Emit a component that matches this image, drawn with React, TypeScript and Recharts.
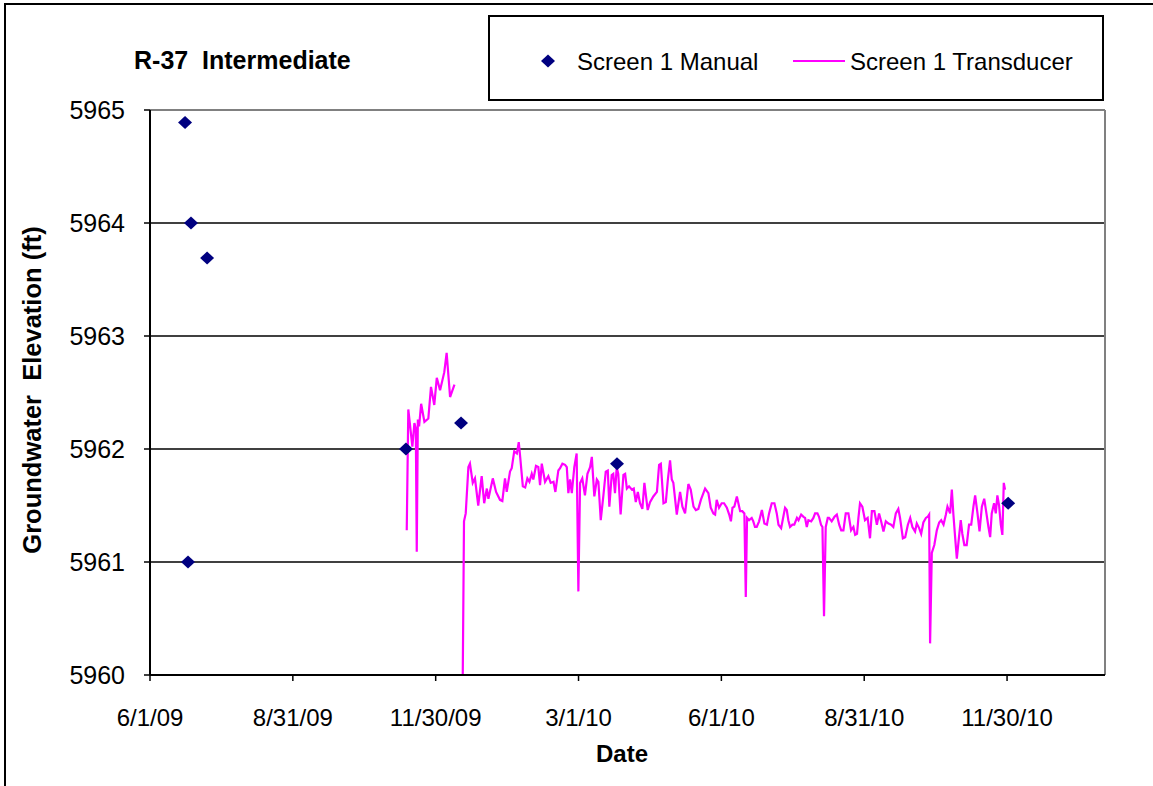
import React from "react";
import {
  ComposedChart,
  Line,
  Scatter,
  XAxis,
  YAxis,
  CartesianGrid,
  ReferenceLine,
} from "recharts";

// x values are days since 6/1/09 (axis ticks every 91.3 days)
const dateTicks = [0, 91.3, 182.6, 273.9, 365.2, 456.5, 547.8];
const dateLabels = ["6/1/09", "8/31/09", "11/30/09", "3/1/10", "6/1/10", "8/31/10", "11/30/10"];
const dayMax = 610.4;
const elevationTicks = [5960, 5961, 5962, 5963, 5964, 5965];

const manualDays = [22.4, 26.2, 24.3, 36.5, 163.6, 198.8, 298.5, 548.5];
const manualElevations = [5964.89, 5964.0, 5961.0, 5963.69, 5962.0, 5962.23, 5961.87, 5961.52];

// transducer record before the data gap
const transducerEarly: [number, number][] = [
  [164.1, 5961.28], [165.1, 5962.35], [167.7, 5962.02], [169.0, 5962.23], [169.9, 5962.18],
  [170.5, 5961.09], [171.2, 5962.26], [172.0, 5962.2], [173.3, 5962.4], [175.4, 5962.24],
  [177.9, 5962.27], [179.6, 5962.55], [181.7, 5962.39], [183.3, 5962.63], [185.4, 5962.52],
  [188.1, 5962.68], [189.6, 5962.85], [191.8, 5962.46], [194.6, 5962.57],
];

// transducer record after the gap
const transducerLate: [number, number][] = [
  [199.9, 5960.0], [200.7, 5961.36], [201.8, 5961.43], [203.5, 5961.84], [204.5, 5961.87],
  [206.3, 5961.7], [207.7, 5961.74], [209.8, 5961.5], [212.0, 5961.76], [213.6, 5961.52],
  [215.3, 5961.65], [216.3, 5961.56], [219.1, 5961.74], [221.2, 5961.62], [223.7, 5961.55],
  [225.2, 5961.54], [226.9, 5961.74], [228.0, 5961.62], [230.1, 5961.8], [231.2, 5961.83],
  [232.8, 5961.98], [234.5, 5961.96], [235.7, 5962.06], [236.6, 5961.93], [238.3, 5961.67],
  [239.8, 5961.66], [241.2, 5961.74], [242.5, 5961.71], [244.0, 5961.78], [245.0, 5961.73],
  [246.7, 5961.85], [248.2, 5961.84], [249.3, 5961.68], [250.4, 5961.87], [252.5, 5961.71],
  [254.6, 5961.76], [256.1, 5961.7], [257.9, 5961.71], [259.1, 5961.62], [261.0, 5961.81],
  [262.1, 5961.83], [263.6, 5961.87], [265.3, 5961.86], [266.4, 5961.84], [267.4, 5961.61],
  [268.5, 5961.73], [269.6, 5961.61], [271.2, 5961.84], [272.7, 5961.96], [273.8, 5960.74],
  [274.9, 5961.7], [276.3, 5961.74], [278.0, 5961.59], [279.6, 5961.78], [281.3, 5961.84],
  [282.4, 5961.93], [284.0, 5961.58], [285.6, 5961.73], [286.6, 5961.71], [288.1, 5961.37],
  [289.8, 5961.59], [291.3, 5961.8], [292.6, 5961.81], [293.6, 5961.49], [295.1, 5961.77],
  [296.1, 5961.78], [297.2, 5961.61], [298.3, 5961.84], [299.3, 5961.78], [300.8, 5961.42],
  [302.6, 5961.77], [303.7, 5961.78], [304.8, 5961.65], [306.2, 5961.67], [308.0, 5961.64],
  [309.2, 5961.65], [310.5, 5961.53], [311.8, 5961.62], [313.2, 5961.52], [314.7, 5961.47],
  [316.0, 5961.7], [318.1, 5961.46], [319.6, 5961.53], [321.7, 5961.58], [324.0, 5961.62],
  [325.4, 5961.86], [326.5, 5961.87], [328.2, 5961.52], [329.7, 5961.53], [331.0, 5961.73],
  [332.4, 5961.9], [333.5, 5961.73], [334.5, 5961.7], [336.7, 5961.42], [338.8, 5961.62],
  [340.3, 5961.49], [342.0, 5961.43], [344.1, 5961.69], [345.6, 5961.64], [347.4, 5961.49],
  [348.9, 5961.46], [350.5, 5961.47], [352.1, 5961.55], [353.7, 5961.61], [354.8, 5961.65],
  [356.9, 5961.61], [358.4, 5961.48], [360.1, 5961.43], [361.2, 5961.42], [362.2, 5961.55],
  [363.7, 5961.48], [365.4, 5961.52], [366.9, 5961.52], [368.7, 5961.48], [370.2, 5961.42],
  [371.3, 5961.36], [372.3, 5961.48], [373.5, 5961.49], [375.1, 5961.58], [377.2, 5961.45],
  [378.6, 5961.45], [379.9, 5961.43], [380.8, 5960.69], [381.6, 5961.39], [382.9, 5961.37],
  [384.6, 5961.39], [385.6, 5961.36], [386.7, 5961.31], [387.8, 5961.31], [389.3, 5961.36],
  [391.1, 5961.46], [392.7, 5961.34], [394.3, 5961.33], [395.7, 5961.43], [397.4, 5961.52],
  [399.1, 5961.52], [400.6, 5961.43], [401.7, 5961.33], [403.4, 5961.3], [404.8, 5961.4],
  [405.9, 5961.48], [407.0, 5961.46], [408.0, 5961.37], [409.1, 5961.31], [410.6, 5961.33],
  [411.8, 5961.33], [413.5, 5961.39], [414.5, 5961.37], [416.2, 5961.42], [417.7, 5961.4],
  [418.7, 5961.39], [419.8, 5961.31], [420.8, 5961.37], [422.6, 5961.36], [424.0, 5961.39],
  [425.1, 5961.43], [426.6, 5961.43], [427.6, 5961.4], [428.9, 5961.33], [429.8, 5961.31],
  [430.8, 5960.52], [431.9, 5961.31], [433.2, 5961.39], [434.0, 5961.39], [435.7, 5961.36],
  [437.5, 5961.4], [439.0, 5961.42], [440.5, 5961.33], [441.8, 5961.28], [443.2, 5961.28],
  [444.7, 5961.43], [446.4, 5961.43], [448.1, 5961.28], [449.6, 5961.31], [450.7, 5961.24],
  [451.9, 5961.25], [452.8, 5961.39], [453.8, 5961.52], [455.3, 5961.49], [457.0, 5961.37],
  [458.7, 5961.39], [460.2, 5961.21], [461.4, 5961.45], [463.0, 5961.45], [464.6, 5961.33],
  [466.0, 5961.43], [467.3, 5961.36], [468.8, 5961.27], [470.3, 5961.36], [472.0, 5961.34],
  [473.7, 5961.33], [475.1, 5961.31], [476.7, 5961.43], [478.3, 5961.47], [479.4, 5961.39],
  [481.2, 5961.21], [482.7, 5961.22], [484.4, 5961.33], [485.9, 5961.39], [487.3, 5961.31],
  [489.0, 5961.27], [490.1, 5961.34], [491.6, 5961.3], [492.9, 5961.25], [494.3, 5961.35],
  [495.9, 5961.39], [497.1, 5961.4], [498.0, 5961.42], [498.6, 5960.28], [499.7, 5961.08],
  [501.3, 5961.15], [502.9, 5961.28], [504.4, 5961.35], [505.7, 5961.37], [507.2, 5961.33],
  [508.7, 5961.42], [509.7, 5961.49], [511.4, 5961.43], [512.5, 5961.64], [513.5, 5961.42],
  [514.6, 5961.22], [515.7, 5961.03], [516.7, 5961.17], [518.2, 5961.37], [519.2, 5961.25],
  [520.5, 5961.15], [522.0, 5961.15], [523.5, 5961.33], [524.9, 5961.33], [526.3, 5961.49],
  [527.4, 5961.59], [528.9, 5961.43], [530.2, 5961.27], [531.7, 5961.49], [533.2, 5961.56],
  [534.4, 5961.45], [535.9, 5961.31], [537.0, 5961.22], [538.0, 5961.43], [539.5, 5961.52],
  [540.6, 5961.43], [541.6, 5961.59], [542.7, 5961.5], [543.8, 5961.33], [544.8, 5961.24],
  [545.7, 5961.7], [546.5, 5961.64],
];

const manualData = manualDays.map((day, i) => ({ day, elevation: manualElevations[i] }));
const transducerData = [
  ...transducerEarly.map(([day, elevation]) => ({ day, elevation })),
  { day: 197, elevation: null },
  ...transducerLate.map(([day, elevation]) => ({ day, elevation })),
];

const FONT = "'Liberation Sans', Arial, sans-serif";
const NAVY = "#000080";
const MAGENTA = "#FF00FF";

const Diamond = (props: any) => {
  const { cx, cy } = props;
  if (cx == null || cy == null) return null;
  return (
    <path
      d={`M${cx},${cy - 6.5}L${cx + 7},${cy}L${cx},${cy + 6.5}L${cx - 7},${cy}Z`}
      fill={NAVY}
    />
  );
};

export default function App() {
  return (
    <div
      style={{
        position: "fixed",
        left: 0,
        top: 0,
        width: 1153,
        height: 786,
        background: "#fff",
        overflow: "hidden",
        fontFamily: FONT,
        color: "#000",
      }}
    >
      {/* outer chart frame */}
      <div
        style={{
          position: "absolute",
          left: 4,
          top: 3,
          width: 1300,
          height: 1000,
          border: "2px solid #000",
        }}
      />

      <div style={{ position: "absolute", left: 0, top: 0 }}>
        <ComposedChart
          width={1153}
          height={786}
          margin={{ top: 110, right: 48, bottom: 71, left: 0 }}
        >
          <CartesianGrid vertical={false} stroke="#000" strokeWidth={1.5} />
          <XAxis
            type="number"
            dataKey="day"
            domain={[0, dayMax]}
            ticks={dateTicks}
            allowDataOverflow
            height={40}
            tickFormatter={(v: number) => dateLabels[dateTicks.indexOf(v)] ?? ""}
            axisLine={{ stroke: "#000", strokeWidth: 2 }}
            tickLine={{ stroke: "#000", strokeWidth: 1.5 }}
            tickSize={6}
            tickMargin={28}
            tick={{ fill: "#000", fontSize: 24, fontFamily: FONT }}
            interval={0}
          />
          <YAxis
            type="number"
            domain={[5960, 5965]}
            ticks={elevationTicks}
            allowDataOverflow
            width={150}
            axisLine={{ stroke: "#000", strokeWidth: 2 }}
            tickLine={{ stroke: "#000", strokeWidth: 1.5 }}
            tickSize={6}
            tickMargin={19}
            tick={{ fill: "#000", fontSize: 25, fontFamily: FONT }}
            interval={0}
          />
          <ReferenceLine y={5965} stroke="#808080" strokeWidth={2} />
          <ReferenceLine x={dayMax} stroke="#808080" strokeWidth={2} />
          <Line
            data={transducerData}
            dataKey="elevation"
            type="linear"
            stroke={MAGENTA}
            strokeWidth={2.2}
            dot={false}
            activeDot={false}
            connectNulls={false}
            isAnimationActive={false}
          />
          <Scatter
            data={manualData}
            dataKey="elevation"
            shape={<Diamond />}
            isAnimationActive={false}
          />
        </ComposedChart>
      </div>

      {/* title */}
      <div
        style={{
          position: "absolute",
          left: 134,
          top: 60,
          transform: "translateY(-50%)",
          fontSize: 25,
          fontWeight: "bold",
          lineHeight: 1,
          whiteSpace: "pre",
        }}
      >
        R-37  Intermediate
      </div>

      {/* legend */}
      <div
        style={{
          position: "absolute",
          left: 488,
          top: 15,
          width: 616,
          height: 86,
          boxSizing: "border-box",
          border: "2px solid #000",
          background: "#fff",
        }}
      >
        <svg width={20} height={20} style={{ position: "absolute", left: 48, top: 34 }}>
          <path d="M10,3.5L17,10L10,16.5L3,10Z" fill={NAVY} />
        </svg>
        <div
          style={{
            position: "absolute",
            left: 87,
            top: 45,
            transform: "translateY(-50%)",
            fontSize: 24,
            lineHeight: 1,
            whiteSpace: "nowrap",
          }}
        >
          Screen 1 Manual
        </div>
        <div
          style={{
            position: "absolute",
            left: 303,
            top: 43,
            width: 52,
            height: 2,
            background: MAGENTA,
          }}
        />
        <div
          style={{
            position: "absolute",
            left: 360,
            top: 45,
            transform: "translateY(-50%)",
            fontSize: 24,
            lineHeight: 1,
            whiteSpace: "nowrap",
          }}
        >
          Screen 1 Transducer
        </div>
      </div>

      {/* axis titles */}
      <div
        style={{
          position: "absolute",
          left: 622,
          top: 754,
          transform: "translate(-50%, -50%)",
          fontSize: 24,
          fontWeight: "bold",
          lineHeight: 1,
        }}
      >
        Date
      </div>
      <div
        style={{
          position: "absolute",
          left: 33,
          top: 390,
          transform: "translate(-50%, -50%) rotate(-90deg)",
          fontSize: 25.5,
          fontWeight: "bold",
          lineHeight: 1,
          whiteSpace: "pre",
        }}
      >
        Groundwater  Elevation (ft)
      </div>
    </div>
  );
}
